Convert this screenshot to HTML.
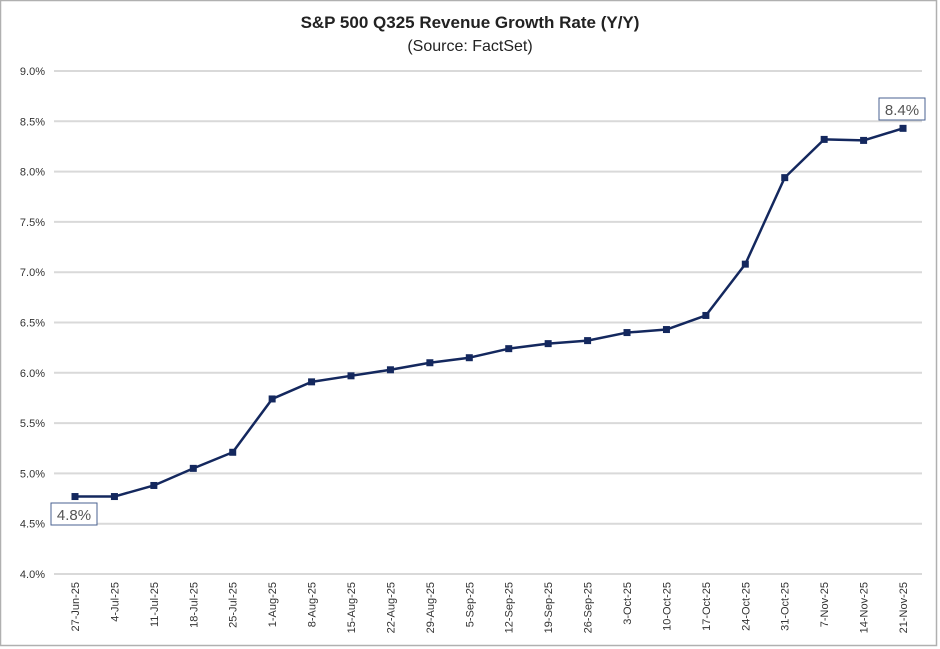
<!DOCTYPE html>
<html><head><style>
body{margin:0;background:#fff;}
svg{display:block;font-family:"Liberation Sans",Arial,sans-serif;}
</style></head><body>
<svg width="940" height="649" viewBox="0 0 940 649">
<rect x="0.5" y="0.5" width="936" height="645" fill="#fff" stroke="#b0b0b0" stroke-width="1.5"/>
<text x="470" y="28" text-anchor="middle" font-size="17" font-weight="bold" fill="#222">S&amp;P 500 Q325 Revenue Growth Rate (Y/Y)</text>
<text x="470" y="51" text-anchor="middle" font-size="16" fill="#222">(Source: FactSet)</text>
<g stroke="#d9d9d9" stroke-width="2">
<line x1="54" x2="922" y1="71" y2="71"/><line x1="54" x2="922" y1="121.3" y2="121.3"/>
<line x1="54" x2="922" y1="171.6" y2="171.6"/><line x1="54" x2="922" y1="221.9" y2="221.9"/>
<line x1="54" x2="922" y1="272.2" y2="272.2"/><line x1="54" x2="922" y1="322.5" y2="322.5"/>
<line x1="54" x2="922" y1="372.8" y2="372.8"/><line x1="54" x2="922" y1="423.1" y2="423.1"/>
<line x1="54" x2="922" y1="473.4" y2="473.4"/><line x1="54" x2="922" y1="523.7" y2="523.7"/>
<line x1="54" x2="922" y1="574" y2="574"/>
</g>
<g font-size="11" fill="#333" text-anchor="end">
<text x="45" y="75">9.0%</text><text x="45" y="125.3">8.5%</text><text x="45" y="175.6">8.0%</text>
<text x="45" y="225.9">7.5%</text><text x="45" y="276.2">7.0%</text><text x="45" y="326.5">6.5%</text>
<text x="45" y="376.8">6.0%</text><text x="45" y="427.1">5.5%</text><text x="45" y="477.4">5.0%</text>
<text x="45" y="527.7">4.5%</text><text x="45" y="578">4.0%</text>
</g>
<g font-size="11" fill="#333" text-anchor="end" id="xl"></g>
<polyline fill="none" stroke="#14285e" stroke-width="2.5" stroke-linejoin="round" id="ln"/>
<g fill="#14285e" id="mk"></g>
<rect x="51" y="503" width="46" height="22" fill="#fff" stroke="#4a6290" stroke-width="1"/>
<text x="74" y="520" text-anchor="middle" font-size="15" fill="#555">4.8%</text>
<rect x="879" y="98" width="46" height="22" fill="#fff" stroke="#4a6290" stroke-width="1"/>
<text x="902" y="115" text-anchor="middle" font-size="15" fill="#555">8.4%</text>
</svg>
<script>
var v=[4.77,4.77,4.88,5.05,5.21,5.74,5.91,5.97,6.03,6.10,6.15,6.24,6.29,6.32,6.40,6.43,6.57,7.08,7.94,8.32,8.31,8.43];
var d=["27-Jun-25","4-Jul-25","11-Jul-25","18-Jul-25","25-Jul-25","1-Aug-25","8-Aug-25","15-Aug-25","22-Aug-25","29-Aug-25","5-Sep-25","12-Sep-25","19-Sep-25","26-Sep-25","3-Oct-25","10-Oct-25","17-Oct-25","24-Oct-25","31-Oct-25","7-Nov-25","14-Nov-25","21-Nov-25"];
var ns="http://www.w3.org/2000/svg",pts=[],mk=document.getElementById("mk"),xl=document.getElementById("xl");
for(var i=0;i<v.length;i++){var x=75+i*39.43,y=574-(v[i]-4)*100.6;pts.push(x+","+y);
var r=document.createElementNS(ns,"rect");r.setAttribute("x",x-3.5);r.setAttribute("y",y-3.5);r.setAttribute("width",7);r.setAttribute("height",7);mk.appendChild(r);
var t=document.createElementNS(ns,"text");t.setAttribute("transform","translate("+(x+4)+",582) rotate(-90)");t.textContent=d[i];xl.appendChild(t);}
document.getElementById("ln").setAttribute("points",pts.join(" "));
</script>
</body></html>
